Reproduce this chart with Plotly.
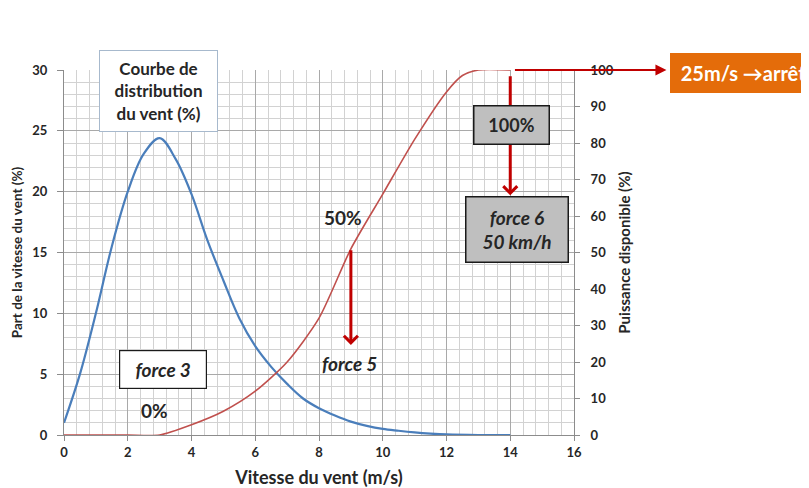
import plotly.graph_objects as go

# ---- data ----
wind_speed = [0, 0.5, 1, 1.5, 2, 2.5, 3, 3.5, 4, 4.5, 5, 5.5, 6, 6.5, 7, 7.5, 8,
              8.5, 9, 9.5, 10, 10.5, 11, 11.5, 12, 13, 14]
distribution = [1.0, 5.0, 10.0, 15.5, 20.0, 23.1, 24.4, 22.7, 19.8, 16.0, 12.7, 9.6, 7.3,
                5.6, 4.2, 3.0, 2.2, 1.6, 1.1, 0.75, 0.5, 0.35, 0.22, 0.12, 0.05, 0.0, 0.0]

power_speed = [0, 1, 2, 3, 4, 5, 6, 7, 8, 9, 10, 11, 12, 12.5, 13, 14]
power_pct = [0, 0, 0, 0, 2.8, 6.5, 12, 20, 32, 51, 66, 81, 94, 98.5, 100, 100]

x_ticks = [0, 2, 4, 6, 8, 10, 12, 14, 16]
left_ticks = [0, 5, 10, 15, 20, 25, 30]
right_ticks = [0, 10, 20, 30, 40, 50, 60, 70, 80, 90, 100]

FONT = "Lato"
DARK_RED = "#c00000"
TXT = "#262626"

fig = go.Figure()
fig.add_trace(go.Scatter(x=wind_speed, y=distribution, mode="lines",
                         line=dict(color="#4a7ebb", width=2.2, shape="spline", smoothing=1.0),
                         showlegend=False, hoverinfo="skip"))
fig.add_trace(go.Scatter(x=power_speed, y=power_pct, mode="lines", yaxis="y2",
                         line=dict(color="#c0504d", width=1.6, shape="spline", smoothing=0.7),
                         showlegend=False, hoverinfo="skip"))

tickfont = dict(family=FONT, size=13, color=TXT, weight="bold")
fig.update_layout(
    width=801, height=480,
    margin=dict(l=56, r=235, t=62, b=53, autoexpand=False),
    paper_bgcolor="white", plot_bgcolor="white",
    font=dict(family=FONT, color=TXT),
    xaxis=dict(range=[0, 16], tickvals=x_ticks, ticktext=[str(v) for v in x_ticks],
               automargin=False,
               showgrid=True, gridcolor="#a9a9a9", gridwidth=1,
               minor=dict(dtick=0.4, tick0=0, showgrid=True, gridcolor="#d2d2d2", gridwidth=1),
               showline=True, linecolor="#8c8c8c", linewidth=1,
               ticks="outside", ticklen=5, tickcolor="#8c8c8c",
               tickfont=tickfont, zeroline=False,
               title=dict(text="Vitesse du vent (m/s)", standoff=14,
                          font=dict(family=FONT, size=18, color=TXT, weight="bold"))),
    yaxis=dict(range=[0, 30], tickvals=left_ticks, ticktext=[str(v) for v in left_ticks],
               automargin=False,
               showgrid=True, gridcolor="#a9a9a9", gridwidth=1,
               minor=dict(dtick=1, tick0=0, showgrid=True, gridcolor="#d2d2d2", gridwidth=1),
               showline=True, linecolor="#8c8c8c", linewidth=1,
               ticks="outside", ticklen=6, tickcolor="#8c8c8c",
               tickfont=tickfont, zeroline=False, ticklabelstandoff=7,
               title=dict(text="Part de la vitesse du vent (%)", standoff=6,
                          font=dict(family=FONT, size=13.5, color=TXT, weight="bold"))),
    yaxis2=dict(range=[0, 100], tickvals=right_ticks, ticktext=[str(v) for v in right_ticks],
                overlaying="y", side="right", showgrid=False, zeroline=False, automargin=False,
                showline=True, linecolor="#8c8c8c", linewidth=1,
                ticks="outside", ticklen=5, tickcolor="#8c8c8c",
                tickfont=tickfont, ticklabelstandoff=8,
                title=dict(text="Puissance disponible (%)", standoff=6,
                           font=dict(family=FONT, size=15, color=TXT, weight="bold"))),
)

anns = []
# arrows
arrow_common = dict(text="", showarrow=True, xref="x", yref="y", axref="x", ayref="y",
                    arrowcolor=DARK_RED, standoff=0, startstandoff=0)
anns.append(dict(x=9, y=7.4, ax=9, ay=15.3, arrowhead=4, arrowwidth=3, arrowsize=0.9, **arrow_common))
anns.append(dict(x=14, y=19.7, ax=14, ay=29.6, arrowhead=4, arrowwidth=3, arrowsize=0.9, **arrow_common))
anns.append(dict(x=18.9, y=30, ax=14.1, ay=30, arrowhead=2, arrowwidth=2.2, arrowsize=1.0, **arrow_common))

box_font = dict(family=FONT, size=17, color=TXT, weight="bold")
big_font = dict(family=FONT, size=19, color=TXT, weight="bold")
anns.append(dict(x=2.98, y=28.27, xref="x", yref="y", showarrow=False,
                 text="Courbe de<br>distribution<br>du vent (%)", font=box_font,
                 bgcolor="white", bordercolor="#a7b9cd", borderwidth=1, width=115, height=78,
                 align="center"))
anns.append(dict(x=9.63, y=31.48, xref="x", yref="y", showarrow=False,
                 text="Puissance<br>disponible<br>(en % P<sub>max</sub>)", font=box_font,
                 bgcolor="white", bordercolor="#a7b9cd", borderwidth=1, width=109, height=77,
                 align="center"))
anns.append(dict(x=14.05, y=25.52, xref="x", yref="y", showarrow=False,
                 text="100%", font=dict(family=FONT, size=18, color=TXT, weight="bold"),
                 bgcolor="#bfbfbf", bordercolor="#1a1a1a", borderwidth=1.5, width=72, height=35))
anns.append(dict(x=14.2, y=16.93, xref="x", yref="y", showarrow=False,
                 text="<i>force 6</i><br><i>50 km/h</i>", font=big_font,
                 bgcolor="#bfbfbf", bordercolor="#1a1a1a", borderwidth=1.5, width=99, height=62))
anns.append(dict(x=3.1, y=5.42, xref="x", yref="y", showarrow=False,
                 text="<i>force 3</i>", font=big_font,
                 bgcolor="white", bordercolor="#1a1a1a", borderwidth=1.2, width=84, height=35))
anns.append(dict(x=2.85, y=2.05, xref="x", yref="y", showarrow=False, text="0%", font=big_font))
anns.append(dict(x=8.75, y=17.9, xref="x", yref="y", showarrow=False, text="50%", font=big_font))
anns.append(dict(x=8.97, y=5.9, xref="x", yref="y", showarrow=False,
                 text="<i>force 5</i>", font=big_font))
anns.append(dict(x=1.188, y=0.9917, xref="paper", yref="paper", showarrow=False,
                 xanchor="left", yanchor="middle",
                 text="\u00a0\u00a025m/s →arrêt",
                 font=dict(family=FONT, size=20, color="white", weight="bold"),
                 bgcolor="#e46c0a", borderwidth=0, width=200, height=38, align="left",
                 borderpad=1))
fig.update_layout(annotations=anns)

fig.write_html("out.html")
